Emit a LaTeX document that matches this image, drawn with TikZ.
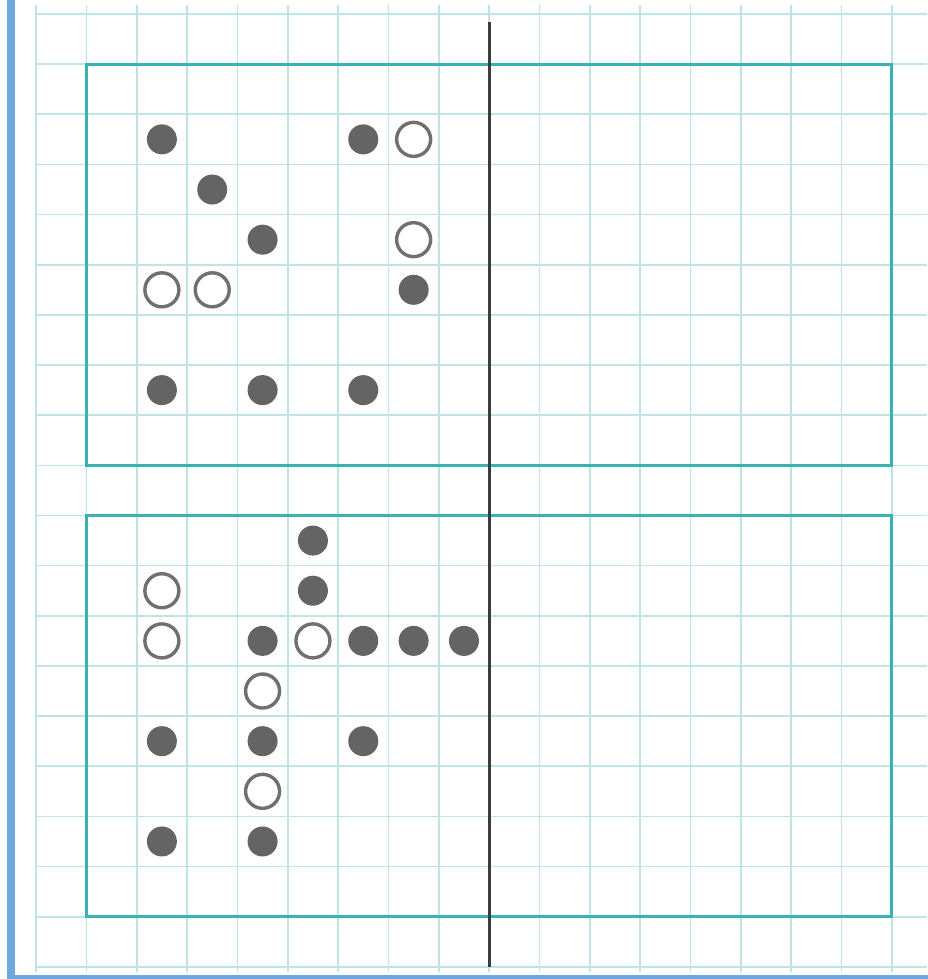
\documentclass[tikz,border=0pt]{standalone}
\definecolor{gridc}{RGB}{192,228,230}
\definecolor{rectc}{RGB}{58,178,180}
\definecolor{dotc}{RGB}{100,100,100}
\definecolor{ringc}{RGB}{112,112,112}
\definecolor{axisc}{RGB}{60,60,60}
\definecolor{framec}{RGB}{111,168,222}
\tikzset{
  gridline/.style={draw=gridc, line width=1.6pt},
  panel/.style={draw=rectc, line width=3pt},
  axisline/.style={draw=axisc, line width=3pt},
  fulldot/.style={circle, fill=dotc, inner sep=0pt, outer sep=0pt, minimum size=30pt},
  ringdot/.style={circle, draw=ringc, fill=white, line width=3.4pt, inner sep=0pt, outer sep=0pt, minimum size=34pt},
  frameline/.style={draw=framec, line width=8pt}
}
\begin{document}
\begin{tikzpicture}[x=1pt,y=-1pt]
\useasboundingbox (0,0) rectangle (928,979);
\fill[white] (0,0) rectangle (928,979);
\begin{scope}[shift={(36,14)}, x=50.35pt, y=-50.15pt]
  % grid
  \foreach \i in {0,...,17} \draw[gridline] (\i,-0.18) -- (\i,19.1);
  \foreach \j in {0,...,19} \draw[gridline] (-0.02,\j) -- (17.7,\j);
  % panels
  \draw[panel] (1,1) rectangle (17,9);
  \draw[panel] (1,10) rectangle (17,18);
  % axis
  \coordinate (axtop) at (9,0.16);
  \coordinate (axbot) at (9,19.0);
  \draw[axisline] (axtop) -- (axbot);
  % top panel dots
  \foreach \c/\r [count=\k] in {2/2,3/3,4/4,6/2,7/5,2/7,4/7,6/7}
    \node[fulldot] (tf\k) at (\c+0.5,\r+0.5) {};
  \foreach \c/\r [count=\k] in {7/2,7/4,2/5,3/5}
    \node[ringdot] (to\k) at (\c+0.5,\r+0.5) {};
  % bottom panel dots
  \foreach \c/\r [count=\k] in {5/10,5/11,4/12,6/12,7/12,8/12,2/14,4/14,6/14,2/16,4/16}
    \node[fulldot] (bf\k) at (\c+0.5,\r+0.5) {};
  \foreach \c/\r [count=\k] in {2/11,2/12,5/12,4/13,4/15}
    \node[ringdot] (bo\k) at (\c+0.5,\r+0.5) {};
\end{scope}
% frame
\draw[frameline] (11,0) -- (11,977);
\draw[draw=framec, line width=4pt] (7,977) -- (928,977);
\end{tikzpicture}
\end{document}
